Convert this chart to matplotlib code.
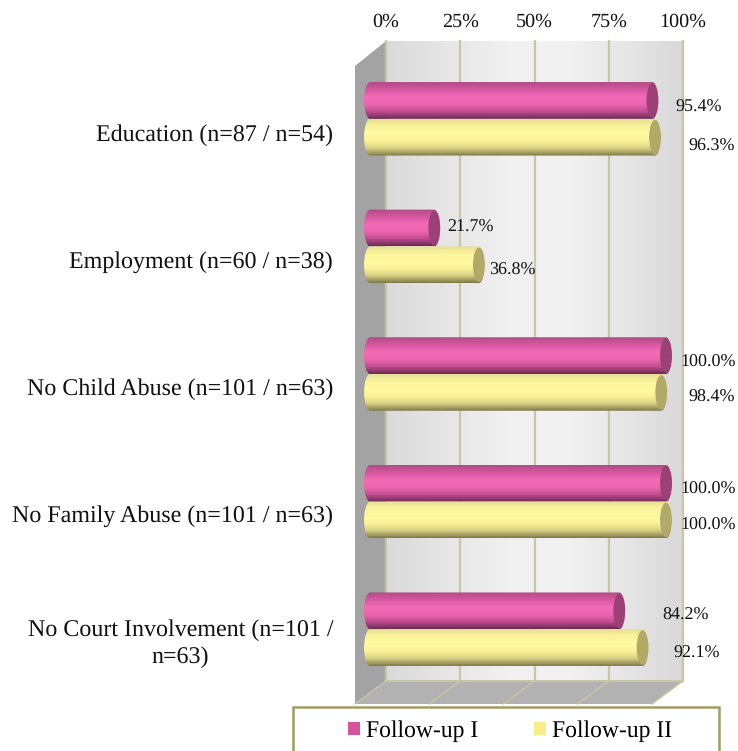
import numpy as np
import matplotlib
matplotlib.use("Agg")
import matplotlib.pyplot as plt
from matplotlib.colors import LinearSegmentedColormap
from matplotlib.patches import Ellipse, PathPatch, Polygon, Rectangle
from matplotlib.path import Path
from matplotlib.transforms import ScaledTranslation

plt.rcParams['font.family'] = ['Liberation Serif', 'DejaVu Serif']
plt.rcParams['text.hinting'] = 'no_hinting'

categories = ["Education (n=87 / n=54)", "Employment (n=60 / n=38)",
              "No Child Abuse (n=101 / n=63)", "No Family Abuse (n=101 / n=63)",
              "No Court Involvement (n=101 /\nn=63)"]
follow_up_1 = [95.4, 21.7, 100.0, 100.0, 84.2]
follow_up_2 = [96.3, 36.8, 98.4, 100.0, 92.1]
ticks = [0, 25, 50, 75, 100]

# label nudges in pixels from the bar tip, the original labels sit all over the place
offs_1 = [(18, 7), (8, -1), (9, 7), (9, 6), (38, 5)]
offs_2 = [(28, 9), (5, 6), (22, 5), (9, 5), (26, 6)]
# pixels down from the category centre, for the axis labels
cat_drop = [14, 13, 13, 12, 9]

W, H = 738, 751
GRID = '#c9c6a4'


def px_axes(fig, x0, y0, x1, y1):
    # axes from pixel box, y counted from the top like in the picture
    return fig.add_axes([x0 / W, 1 - y1 / H, (x1 - x0) / W, (y1 - y0) / H])


def cylinder(ax, val, y, h, stops, cap, tip=2.0):
    cmap = LinearSegmentedColormap.from_list('c', stops)
    grad = np.linspace(0, 1, 64).reshape(-1, 1)
    im = ax.imshow(grad, cmap=cmap, aspect='auto', origin='upper', zorder=3,
                   extent=[-tip, val + tip, y + h / 2, y - h / 2])
    top, bot = y - h / 2, y + h / 2
    k = 0.55
    verts = [(0, top), (val, top),
             (val + tip * k, top), (val + tip, y - h / 2 * k), (val + tip, y),
             (val + tip, y + h / 2 * k), (val + tip * k, bot), (val, bot),
             (0, bot),
             (-tip * k, bot), (-tip, y + h / 2 * k), (-tip, y),
             (-tip, y - h / 2 * k), (-tip * k, top), (0, top)]
    codes = [Path.MOVETO, Path.LINETO] + [Path.CURVE4] * 6 + [Path.LINETO] + [Path.CURVE4] * 6
    outline = PathPatch(Path(verts, codes), fc='none', ec='none', transform=ax.transData)
    ax.add_patch(outline)
    im.set_clip_path(outline)
    ax.add_patch(Ellipse((val, y), 2 * tip, h * 0.94, fc=cap, ec='none', zorder=3.5))


fig = plt.figure(figsize=(W / 100, H / 100), dpi=100)

# back wall with the top scale
back = px_axes(fig, 386, 41, 683, 681)
wall = LinearSegmentedColormap.from_list('w', ['#dadada', '#e6e6e6', '#f0f0f0', '#f2f2f2', '#e6e6e6', '#d8d8d8'])
back.imshow(np.linspace(0, 1, 200).reshape(1, -1), cmap=wall, aspect='auto',
            extent=[0, 100, 0, 1], zorder=0)
back.set_xlim(0, 100)
back.set_ylim(0, 1)
back.xaxis.tick_top()
back.set_xticks(ticks)
back.set_xticklabels([f"{t}%" for t in ticks], fontsize=14.5)
back.tick_params(axis='x', length=0, pad=7, colors='#111111')
back.set_yticks([])
for s in back.spines.values():
    s.set_visible(False)
back.grid(axis='x', color=GRID, lw=1.6, zorder=1)
for g in back.get_xgridlines():
    g.set_clip_on(False)

dx = -31 / 2.97
dy = 23 / 640
back.add_patch(Polygon([(0, 1), (dx, 1 - 25 / 640), (dx, -dy), (0, 0)], fc='#a3a3a3', ec='none',
                       clip_on=False, zorder=1))
back.add_patch(Polygon([(0, 0), (100, 0), (100 + dx, -dy), (dx, -dy)], fc='#b2b2b2', ec='none',
                       clip_on=False, zorder=1))
for t in ticks:
    back.plot([t, t + dx], [0, -dy], color=GRID, lw=1.0, clip_on=False, zorder=2)
back.plot([0, 100], [0, 0], color=GRID, lw=1.4, clip_on=False, zorder=2)

# bars sit on their own axes, in front of the wall
# x runs a bit past 0-100 so the round ends do not get cut
ax = px_axes(fig, 370 - 3 * 2.96, 55, 666 + 3 * 2.96, 693)
ax.patch.set_alpha(0)
pink = ['#b04c88', '#d658a0', '#f26ab6', '#ee66b0', '#c24e90', '#6e2a56']
yellow = ['#e6e096', '#fbf39a', '#fffaa2', '#fbf298', '#d8d184', '#7f7a4a']
h = 0.288
for i, cat in enumerate(categories):
    cylinder(ax, follow_up_1[i], i - h / 2, h, pink, '#9b4176')
    cylinder(ax, follow_up_2[i], i + h / 2, h, yellow, '#b1a968')
    for val, y, off in ((follow_up_1[i], i - h / 2, offs_1[i]), (follow_up_2[i], i + h / 2, offs_2[i])):
        ax.annotate(f"{val:.1f}%", (val, y), xytext=((off[0] + 5) * 0.72, -off[1] * 0.72),
                    textcoords='offset points', ha='left', va='center', fontsize=13,
                    color='#111111', annotation_clip=False, zorder=5)

ax.set_xlim(-3, 103)
ax.set_ylim(4.5, -0.5)
ax.set_xticks([])
ax.set_yticks(range(len(categories)))
ax.set_yticklabels(categories, fontsize=17.3, multialignment='center', color='#111111', linespacing=1.3)
ax.tick_params(axis='y', length=0, pad=28 * 0.72)
for s in ax.spines.values():
    s.set_visible(False)
for lab, drop in zip(ax.get_yticklabels(), cat_drop):
    lab.set_transform(lab.get_transform() + ScaledTranslation(0, -drop / 100, fig.dpi_scale_trans))

# legend, the box runs off the bottom of the image
fig.add_artist(Rectangle((293 / W, 1 - 780 / H), 426 / W, 73 / H, fc='white', ec='#a39c62', lw=1.8,
                         transform=fig.transFigure))
handles = [Rectangle((0, 0), 1, 1, fc='#d4559c'), Rectangle((0, 0), 1, 1, fc='#f9ec8a')]
fig.legend(handles, ['Follow-up I', 'Follow-up II'], loc='center', ncols=2, frameon=False,
           bbox_to_anchor=(510 / W, 1 - 731 / H), fontsize=17, handlelength=0.5, handleheight=0.5,
           handletextpad=0.25, columnspacing=2.35)

fig.savefig('out.png', dpi=100)
